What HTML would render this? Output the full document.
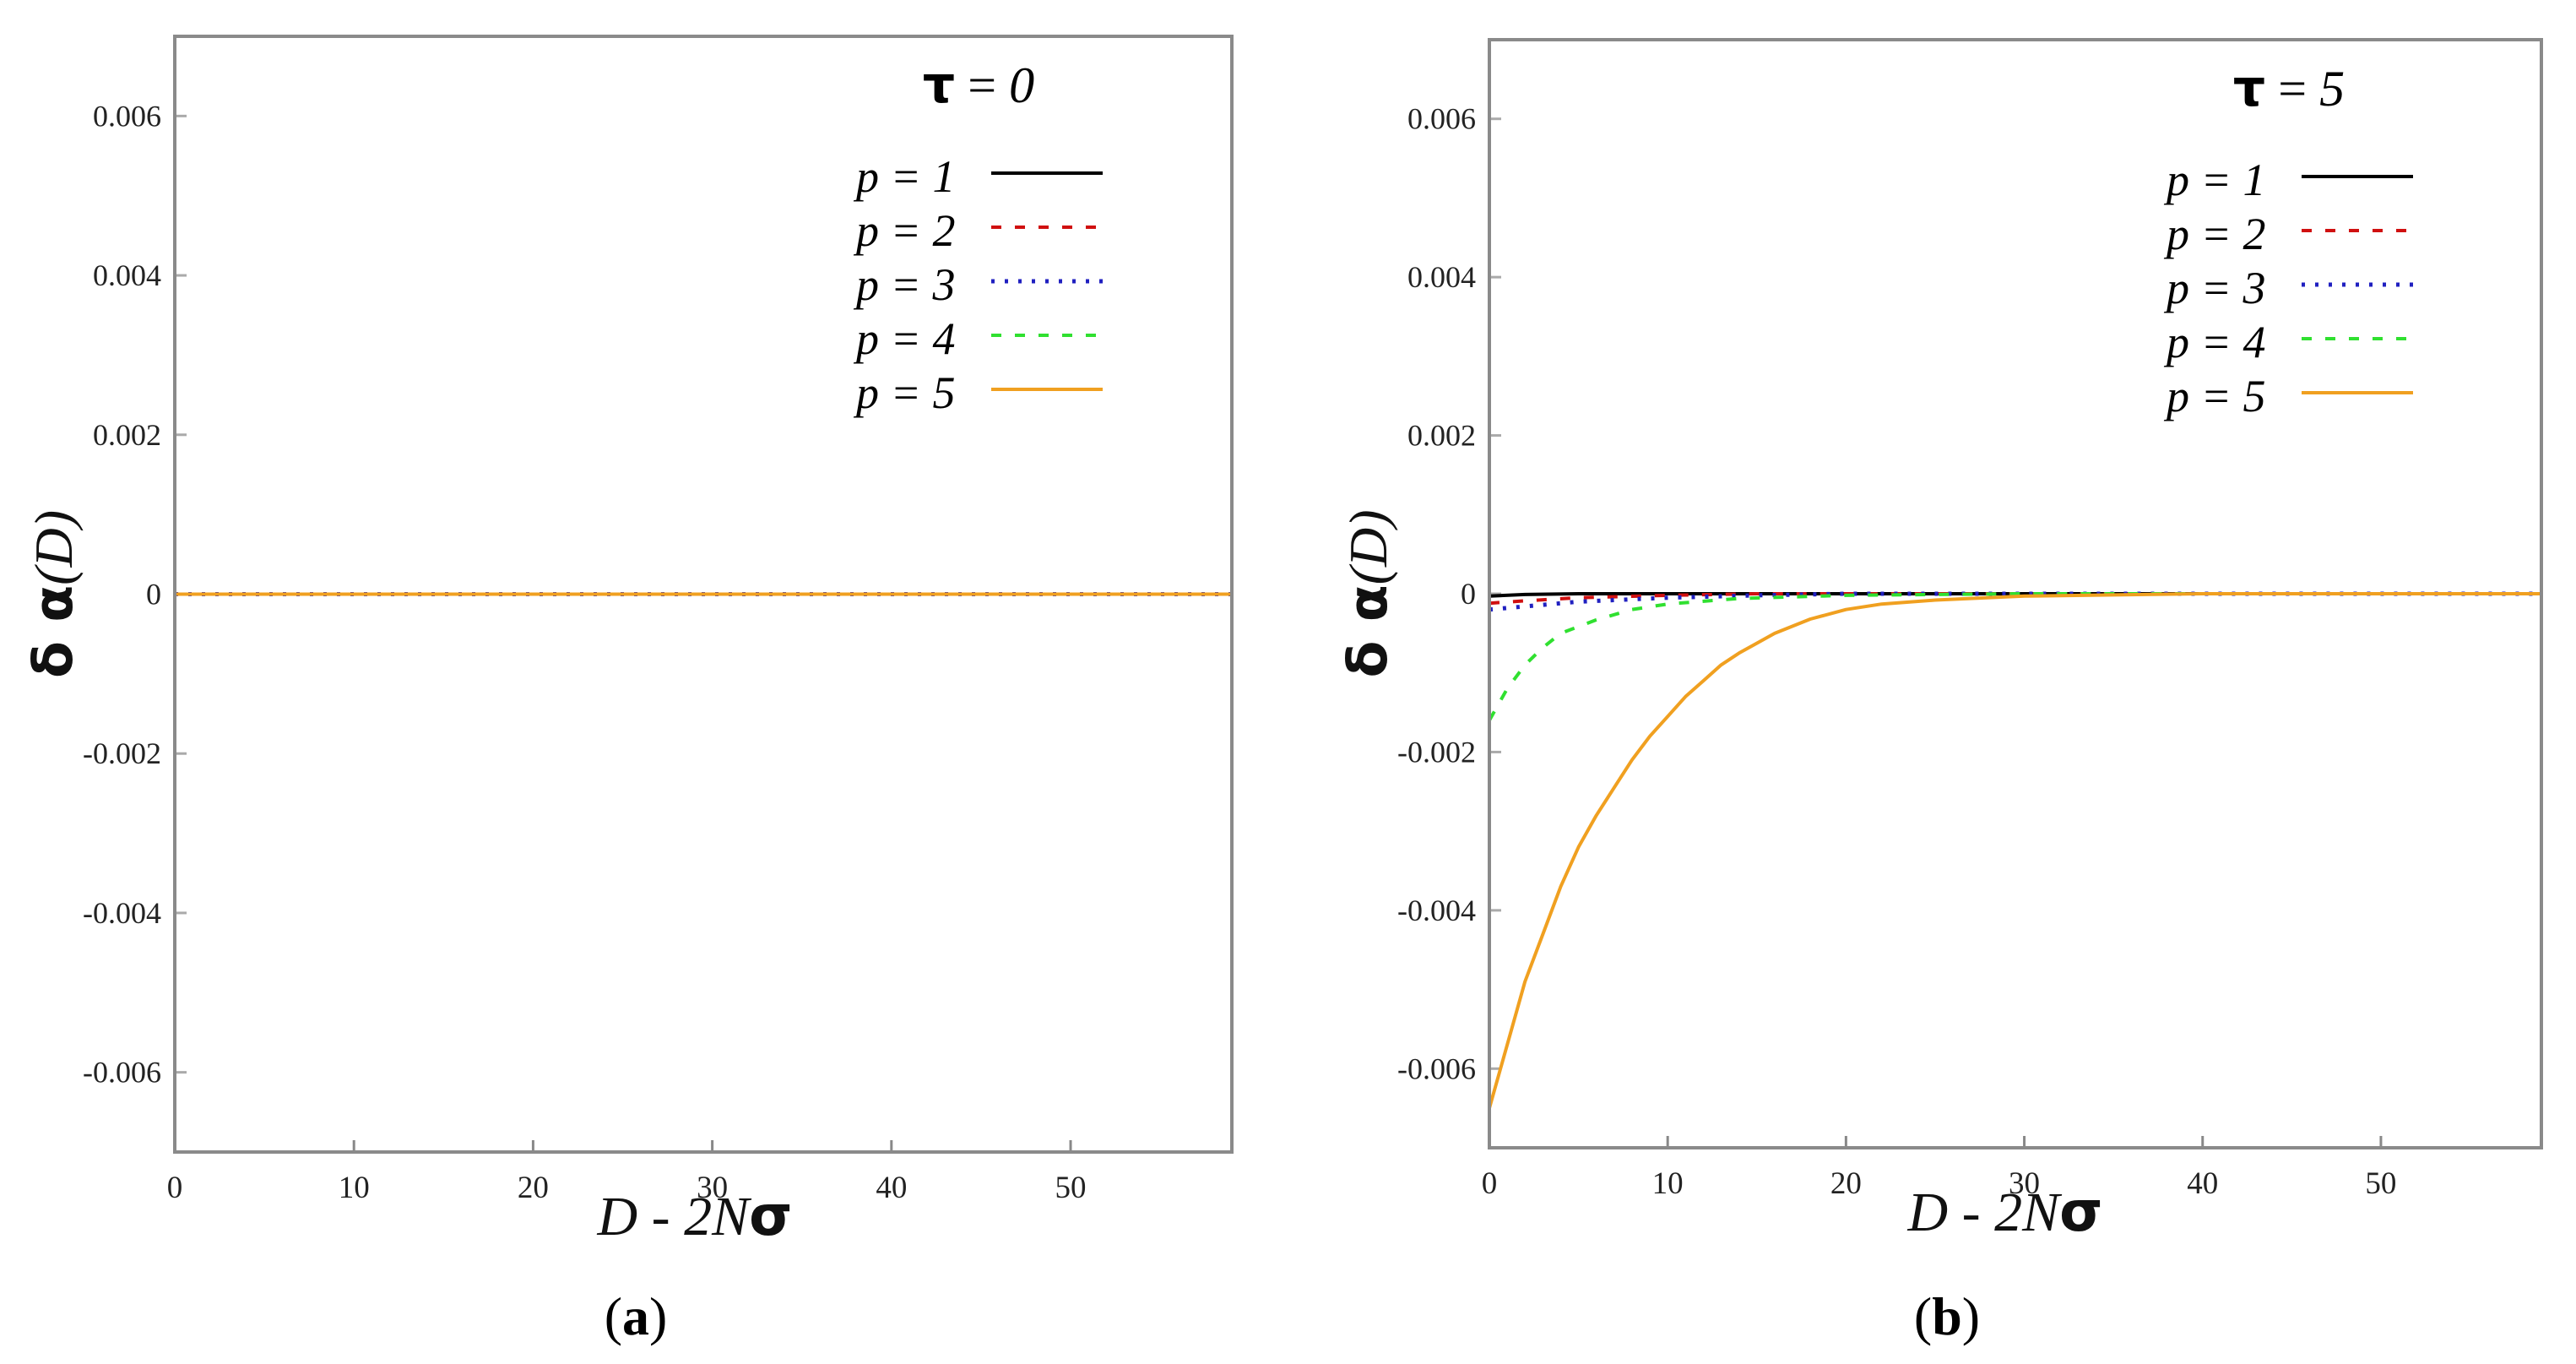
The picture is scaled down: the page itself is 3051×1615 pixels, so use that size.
<!DOCTYPE html>
<html><head><meta charset="utf-8"><style>
html,body{margin:0;padding:0;background:#fff}
svg{display:block}
</style></head><body>
<svg id="fig" width="3051" height="1615" viewBox="0 0 3051 1615" xmlns="http://www.w3.org/2000/svg"></svg>
<script>
const xTicks=[0,10,20,30,40,50];
const yTicks=[-0.006,-0.004,-0.002,0,0.002,0.004,0.006];
const yTickLabels=["-0.006","-0.004","-0.002","0","0.002","0.004","0.006"];
const seriesNames=["p = 1","p = 2","p = 3","p = 4","p = 5"];
// panel (a) tau = 0: all series at zero
const aX=[0,59];
const aP1=[0,0];const aP2=[0,0];const aP3=[0,0];const aP4=[0,0];const aP5=[0,0];
// panel (b) tau = 5
const bX1=[0,2,5,10,59];const bP1=[-0.00003,-0.00001,0,0,0];
const bX2=[0,2,5,10,15,59];const bP2=[-0.00012,-0.00009,-0.00005,-0.00002,0,0];
const bX3=[0,2,5,10,15,20,59];const bP3=[-0.0002,-0.00016,-0.0001,-0.00005,-0.00002,0,0];
const bX4=[0,1,2,3,4,6,8,10,14,20,30,59];
const bP4=[-0.0016,-0.0012,-0.0009,-0.00068,-0.0005,-0.00033,-0.0002,-0.00013,-0.00006,-0.00002,0,0];
const bX5=[0,1,2,3,4,5,6,7,8,9,10,11,12,13,14,16,18,20,22,25,30,40,59];
const bP5=[-0.0065,-0.0057,-0.0049,-0.0043,-0.0037,-0.0032,-0.0028,-0.00245,-0.0021,-0.0018,-0.00155,-0.0013,-0.0011,-0.0009,-0.00075,-0.0005,-0.00032,-0.0002,-0.00013,-0.00008,-0.00003,0,0];

const NS="http://www.w3.org/2000/svg";
const svg=document.getElementById('fig');
const styles=[
 {c:"#000",d:"",w:4},
 {c:"#d01010",d:"12 16",w:4},
 {c:"#2020c0",d:"4 12",w:5},
 {c:"#30e030",d:"12 16",w:4},
 {c:"#f0a020",d:"",w:4}];
function mk(tag,attrs,parent){const e=document.createElementNS(NS,tag);for(const k in attrs)e.setAttribute(k,attrs[k]);(parent||svg).appendChild(e);return e;}

function panel(id,L,R,T,B,tau,data,legX,capX,titleX){
 const g=mk('g',{});
 
 
 const xs=v=>L+(R-L)*v/59;
 const ys=v=>T+(B-T)*(0.007-v)/0.014;
 xTicks.forEach(t=>{
  const tk=mk('line',{x1:xs(t),x2:xs(t),y1:B,y2:B-14,stroke:'#888','stroke-width':3},g);
  
  
  const tl=mk('text',{x:xs(t),y:B+54,'text-anchor':'middle','font-family':'Liberation Serif, serif','font-size':37,fill:'#222'},g);
  tl.textContent=t;
  
  
 });
 yTicks.forEach((t,i)=>{
  const tk=mk('line',{x1:L,x2:L+14,y1:ys(t),y2:ys(t),stroke:'#aaa','stroke-width':3},g);
  
  
  const tl=mk('text',{x:L-16,y:ys(t)+12,'text-anchor':'end','font-family':'Liberation Serif, serif','font-size':36,fill:'#222'},g);
  tl.textContent=yTickLabels[i];
  
  
 });
 data.forEach((s,i)=>{
  const st=styles[i];
  const pts=s.x.map((x,j)=>xs(x).toFixed(1)+','+ys(s.y[j]).toFixed(1)).join(' ');
  const pl=mk('polyline',{points:pts,fill:'none',stroke:st.c,'stroke-width':st.w,'stroke-dasharray':st.d,'stroke-linejoin':'round'},g);
  
  
 });
 const fr=mk('rect',{x:L,y:T,width:R-L,height:B-T,fill:'none',stroke:'#8a8a8a','stroke-width':4},g);
 
 
 const tt=mk('text',{x:legX+145,y:T+78,'text-anchor':'middle','font-family':'Liberation Serif, serif','font-size':60,fill:'#000'},g);
 tt.innerHTML='<tspan font-family="DejaVu Sans, sans-serif" font-weight="bold">τ</tspan> = <tspan font-style="italic">'+tau+'</tspan>';
 
 
 seriesNames.forEach((n,i)=>{
  const y=T+162+i*64;
  const lt=mk('text',{x:legX,y:y+22,'font-family':'Liberation Serif, serif','font-size':54,'font-style':'italic',fill:'#000'},g);
  lt.textContent=n;
  
  
  const st=styles[i];
  const ll=mk('line',{x1:legX+160,x2:legX+292,y1:y,y2:y,stroke:st.c,'stroke-width':st.w,'stroke-dasharray':st.d},g);
  
  
 });
 const xt=mk('text',{x:titleX,y:B+98,'text-anchor':'middle','font-family':'Liberation Serif, serif','font-size':66,'font-style':'italic',fill:'#111'},g);
 xt.innerHTML='D - 2N<tspan font-style="normal" font-family="DejaVu Sans, sans-serif" font-weight="bold">σ</tspan>';
 
 
 const yt=mk('text',{x:0,y:0,'text-anchor':'middle','font-family':'Liberation Serif, serif','font-size':64,fill:'#111',transform:'translate('+(L-122)+','+((T+B)/2)+') rotate(-90)'},g);
 yt.innerHTML='<tspan font-family="DejaVu Sans, sans-serif" font-weight="bold">δ α</tspan><tspan font-style="italic">(D)</tspan>';
 
 
 const cp=mk('text',{x:capX,y:1580,'text-anchor':'middle','font-family':'Liberation Serif, serif','font-size':64,fill:'#000'},g);
 cp.innerHTML='(<tspan font-weight="bold">'+id+'</tspan>)';
 
 
}
panel('a',207,1459,43,1364,'0',
 [{x:aX,y:aP1},{x:aX,y:aP2},{x:aX,y:aP3},{x:aX,y:aP4},{x:aX,y:aP5}],1014,753,823);
panel('b',1764,3010,47,1359,'5',
 [{x:bX1,y:bP1},{x:bX2,y:bP2},{x:bX3,y:bP3},{x:bX4,y:bP4},{x:bX5,y:bP5}],2566,2306,2375);
</script>
</body></html>
